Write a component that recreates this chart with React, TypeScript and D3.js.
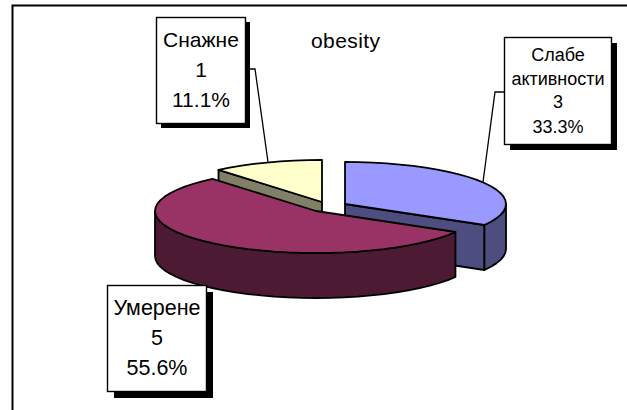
import React from "react";
import * as d3 from "d3";

const categories = ["Слабе активности", "Умерене", "Снажне"];
const values = [3, 5, 1];
const labelLines = [["Слабе", "активности", "3", "33.3%"], ["Умерене", "5", "55.6%"], ["Снажне", "1", "11.1%"]];
const topColors = ["#9999FF", "#993366", "#FFFFCC"];
const sideColors = ["#4D4D80", "#4D1A33", "#808066"];

const W = 627, H = 410;
const RX = 161, RY = 42, DEPTH = 45;
const centers: [number, number][] = [[345, 204], [316, 211], [322, 202]];
const boxes = [
  { x: 504, y: 37, w: 107, h: 107, sh: 6, lead: [[504, 92], [495, 92], [483, 182]], fs: 18, ys: [61, 85, 108, 133] },
  { x: 107, y: 285, w: 99, h: 106, sh: 7, lead: [], fs: 21.5, ys: [315, 345, 375] },
  { x: 156, y: 17, w: 89, h: 106, sh: 5, lead: [[250, 69], [255, 69], [268, 162]], fs: 21, ys: [47, 77, 107] },
];

const arcs = d3.pie<number>().sort(null)(values);

function pt(c: [number, number], a: number, dz = 0): [number, number] {
  return [c[0] + RX * Math.sin(a), c[1] - RY * Math.cos(a) + dz];
}
function rim(c: [number, number], a0: number, a1: number, dz = 0): [number, number][] {
  const n = Math.max(2, Math.round(Math.abs(a1 - a0) / (Math.PI / 36)));
  return d3.range(n + 1).map((i) => pt(c, a0 + ((a1 - a0) * i) / n, dz));
}
const line = d3.line();
const closed = (p: [number, number][]) => (line(p) as string) + "Z";

export default function App() {
  return (
    <svg width={W} height={H} style={{ position: "absolute", left: 0, top: 0, background: "#fff", fontFamily: "'Liberation Sans', Arial, sans-serif" }}>
      <path d="M12.5 410V5.5H627" fill="none" stroke="#000" strokeWidth={2} />
      <text x={311} y={48} fontSize={21} textLength={69} fill="#000">obesity</text>
      {[2, 0, 1].map((i) => {
        const c = centers[i];
        const { startAngle: a0, endAngle: a1 } = arcs[i];
        const cut = (a: number) => closed([c, pt(c, a), pt(c, a, DEPTH), [c[0], c[1] + DEPTH]]);
        const lo = Math.max(a0, Math.PI / 2), hi = Math.min(a1, (3 * Math.PI) / 2);
        const side = lo < hi ? closed([...rim(c, lo, hi), ...rim(c, hi, lo, DEPTH)]) : null;
        const top = closed([c, ...rim(c, a0, a1)]);
        const st = { stroke: "#000", strokeWidth: 1.8, strokeLinejoin: "round" as const };
        return (
          <g key={categories[i]}>
            {i === 0 && <path d={cut(a1)} fill={sideColors[i]} {...st} />}
            {i === 2 && <path d={cut(a0)} fill={sideColors[i]} {...st} />}
            {side && <path d={side} fill={sideColors[i]} {...st} />}
            <path d={top} fill={topColors[i]} {...st} />
          </g>
        );
      })}
      {boxes.map((b, i) => (
        <g key={i}>
          {b.lead.length > 0 && <path d={line(b.lead as [number, number][]) as string} fill="none" stroke="#000" strokeWidth={1.3} />}
          <rect x={b.x + b.sh} y={b.y + b.sh} width={b.w} height={b.h} fill="#000" />
          <rect x={b.x + 0.5} y={b.y + 0.5} width={b.w} height={b.h} fill="#fff" stroke="#000" strokeWidth={1.4} />
          {labelLines[i].map((t, j) => (
            <text key={j} x={b.x + b.w / 2 + 0.5} y={b.ys[j]} fontSize={b.fs} textAnchor="middle" fill="#000">{t}</text>
          ))}
        </g>
      ))}
    </svg>
  );
}
